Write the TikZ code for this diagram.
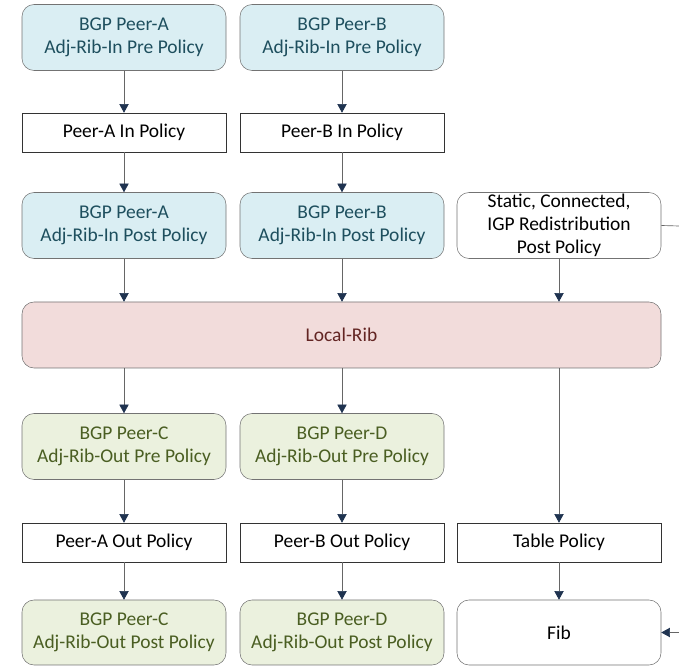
\documentclass[tikz,border=0pt]{standalone}
\usepackage{fontspec}
\setmainfont{Carlito}
\usepackage{tikz}
\usetikzlibrary{arrows.meta}

\definecolor{inFill}{HTML}{DAEEF3}
\definecolor{inText}{HTML}{1E4F5E}
\definecolor{outFill}{HTML}{EBF1DE}
\definecolor{outText}{HTML}{4A5E22}
\definecolor{ribFill}{HTML}{F2DCDB}
\definecolor{ribText}{HTML}{632523}
\definecolor{tipNavy}{HTML}{1F3350}

\begin{document}
\begin{tikzpicture}[x=0.75pt,y=-0.75pt,font=\fontsize{14.6}{17.3}\selectfont,
	every node/.style={align=center,inner sep=0pt,minimum width=153pt},
	ribbox/.style={draw=gray!90!black,rounded corners=9pt,minimum height=49.5pt},
	inrib/.style={ribbox,fill=inFill,text=inText},
	outrib/.style={ribbox,fill=outFill,text=outText},
	plainrib/.style={ribbox,fill=white,text=black},
	policy/.style={draw=black!80,fill=white,minimum height=29.25pt},
	link/.style={draw=gray!80!black,line width=0.5pt,-{Triangle[width=7pt,length=6.5pt,fill=tipNavy,color=tipNavy]}}]

    \useasboundingbox (0,0) rectangle (679,666);

    % inbound side
    \node[inrib] (preA) at (124,37.5) {BGP Peer-A\\Adj-Rib-In Pre Policy};
    \node[inrib] (preB) at (342,37.5) {BGP Peer-B\\Adj-Rib-In Pre Policy};
    \node[policy] (polA) at (124,132.5) {Peer-A In Policy};
    \node[policy] (polB) at (342,132.5) {Peer-B In Policy};
    \node[inrib] (postA) at (124,225.5) {BGP Peer-A\\Adj-Rib-In Post Policy};
    \node[inrib] (postB) at (342,225.5) {BGP Peer-B\\Adj-Rib-In Post Policy};
    \node[plainrib] (redist) at (559,225.5) {Static, Connected,\\IGP Redistribution\\Post Policy};

    \node[ribbox,fill=ribFill,text=ribText,minimum width=479.25pt] (locrib) at (341.5,335) {Local-Rib};

    % outbound side
    \node[outrib] (preC) at (124,446.5) {BGP Peer-C\\Adj-Rib-Out Pre Policy};
    \node[outrib] (preD) at (342,446.5) {BGP Peer-D\\Adj-Rib-Out Pre Policy};
    \node[policy] (outA) at (124,542.5) {Peer-A Out Policy};
    \node[policy] (outB) at (342,542.5) {Peer-B Out Policy};
    \node[policy] (tblpol) at (559,542.5) {Table Policy};
    \node[outrib,minimum height=48.75pt] (postC) at (124,632.5) {BGP Peer-C\\Adj-Rib-Out Post Policy};
    \node[outrib,minimum height=48.75pt] (postD) at (342,632.5) {BGP Peer-D\\Adj-Rib-Out Post Policy};
    \node[plainrib,minimum height=48.75pt] (fib) at (559,632.5) {Fib};

    \coordinate (redistEnd) at (679,226);
    \coordinate (fibIn) at (679,632.5);

    \draw[link] (preA) -- (polA);
    \draw[link] (preB) -- (polB);
    \draw[link] (polA) -- (postA);
    \draw[link] (polB) -- (postB);
    \draw[link] (postA) -- (postA |- locrib.north);
    \draw[link] (postB) -- (postB |- locrib.north);
    \draw[link] (redist) -- (redist |- locrib.north);
    \draw[draw=gray!80!black,line width=0.5pt] (redist.east) -- (redistEnd);

    \draw[link] (locrib.south -| preC.north) -- (preC);
    \draw[link] (locrib.south -| preD.north) -- (preD);
    \draw[link] (locrib.south -| tblpol.north) -- (tblpol);
    \draw[link] (preC) -- (outA);
    \draw[link] (preD) -- (outB);
    \draw[link] (outA) -- (postC);
    \draw[link] (outB) -- (postD);
    \draw[link] (tblpol) -- (fib);
    \draw[link] (fibIn) -- (fib);

\end{tikzpicture}
\end{document}
